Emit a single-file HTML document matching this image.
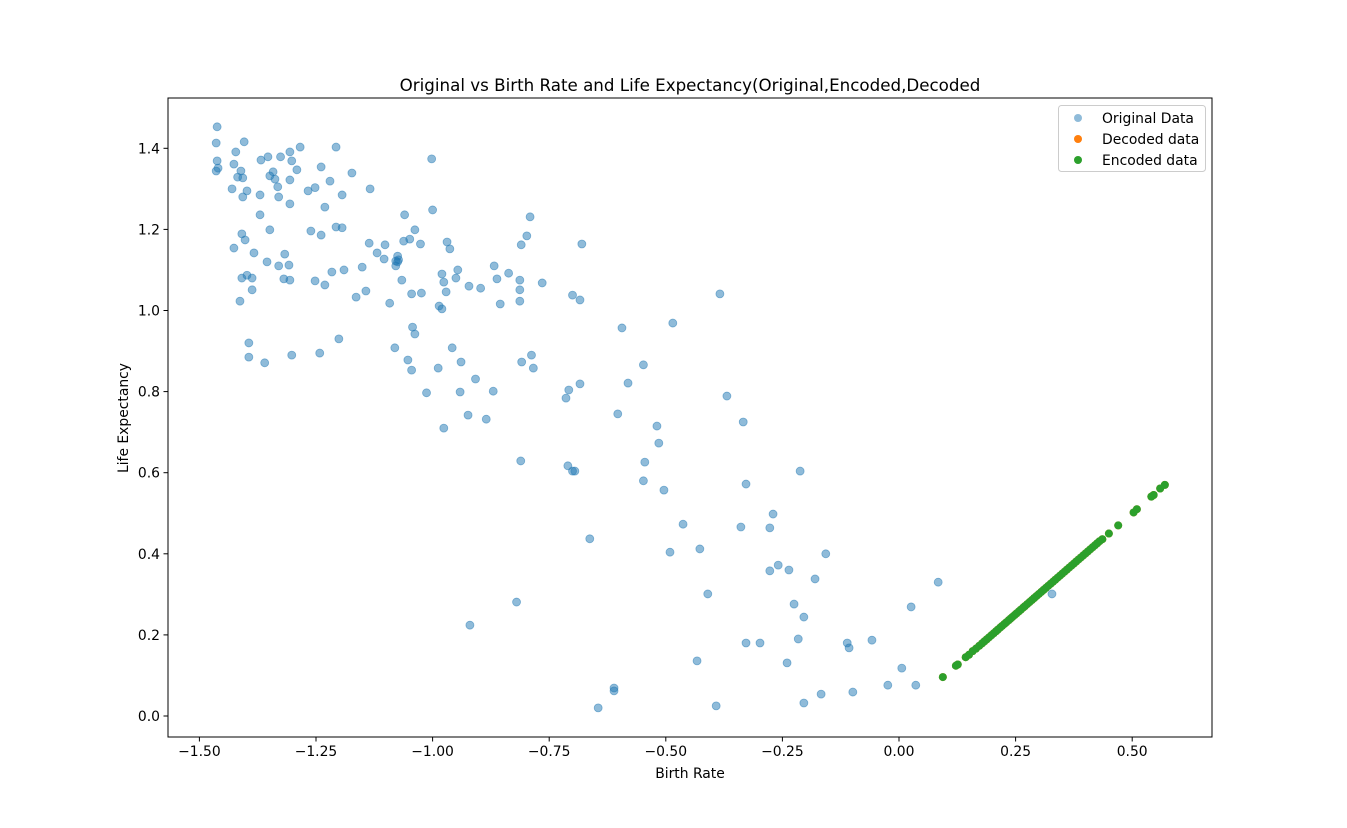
<!DOCTYPE html>
<html><head><meta charset="utf-8"><style>
body{margin:0;background:#fff;}
svg{display:block;font-family:"DejaVu Sans","Liberation Sans",sans-serif;}
</style></head><body>
<svg id="chart" width="1347" height="828"></svg>
<script>
const origX=[-1.462,-1.464,-1.462,-1.460,-1.464,-1.404,-1.422,-1.426,-1.411,-1.418,-1.407,-1.430,-1.398,-1.407,-1.370,-1.368,-1.353,-1.326,-1.342,-1.349,-1.338,-1.332,-1.330,-1.306,-1.302,-1.284,-1.291,-1.306,-1.306,-1.370,-1.267,-1.252,-1.239,-1.207,-1.173,-1.220,-1.231,-1.194,-1.134,-1.409,-1.402,-1.426,-1.349,-1.383,-1.355,-1.317,-1.308,-1.330,-1.261,-1.239,-1.207,-1.194,-1.409,-1.398,-1.387,-1.319,-1.306,-1.387,-1.413,-1.252,-1.231,-1.216,-1.190,-1.164,-1.143,-1.394,-1.394,-1.360,-1.302,-1.242,-1.201,-1.136,-1.119,-1.102,-1.104,-1.151,-1.060,-1.062,-1.049,-1.038,-1.026,-1.000,-1.002,-1.075,-1.075,-1.079,-1.079,-1.073,-1.066,-1.092,-1.024,-1.045,-1.043,-1.038,-1.081,-1.053,-1.045,-1.013,-0.969,-0.963,-0.946,-0.950,-0.980,-0.976,-0.971,-0.986,-0.980,-0.922,-0.897,-0.958,-0.939,-0.988,-0.908,-0.941,-0.924,-0.885,-0.976,-0.868,-0.862,-0.837,-0.855,-0.810,-0.798,-0.791,-0.813,-0.813,-0.813,-0.765,-0.870,-0.809,-0.788,-0.784,-0.811,-0.820,-0.920,-0.680,-0.700,-0.684,-0.684,-0.708,-0.714,-0.710,-0.700,-0.695,-0.663,-0.594,-0.581,-0.603,-0.548,-0.545,-0.548,-0.519,-0.515,-0.504,-0.485,-0.491,-0.463,-0.427,-0.410,-0.433,-0.611,-0.611,-0.645,-0.392,-0.384,-0.369,-0.334,-0.328,-0.339,-0.328,-0.298,-0.270,-0.277,-0.259,-0.277,-0.236,-0.225,-0.216,-0.240,-0.212,-0.204,-0.204,-0.180,-0.167,-0.157,-0.111,-0.107,-0.099,-0.058,-0.024,0.006,0.026,0.036,0.084,0.328];
const origY=[1.453,1.413,1.369,1.351,1.344,1.416,1.391,1.361,1.344,1.329,1.327,1.300,1.295,1.280,1.285,1.371,1.379,1.379,1.342,1.332,1.324,1.305,1.280,1.391,1.369,1.403,1.347,1.322,1.263,1.236,1.295,1.303,1.354,1.403,1.339,1.319,1.255,1.285,1.300,1.189,1.174,1.154,1.199,1.142,1.120,1.139,1.112,1.110,1.196,1.186,1.206,1.204,1.080,1.087,1.080,1.078,1.075,1.051,1.023,1.073,1.063,1.095,1.100,1.033,1.048,0.920,0.885,0.871,0.890,0.895,0.930,1.166,1.142,1.162,1.127,1.107,1.236,1.171,1.176,1.199,1.164,1.248,1.374,1.134,1.120,1.110,1.122,1.125,1.075,1.018,1.043,1.041,0.959,0.942,0.908,0.878,0.853,0.797,1.169,1.152,1.100,1.080,1.090,1.070,1.046,1.011,1.004,1.060,1.055,0.908,0.873,0.858,0.831,0.799,0.742,0.732,0.710,1.110,1.078,1.092,1.016,1.162,1.184,1.231,1.075,1.051,1.023,1.068,0.801,0.873,0.890,0.858,0.629,0.281,0.224,1.164,1.038,1.026,0.819,0.804,0.784,0.617,0.604,0.604,0.437,0.957,0.821,0.745,0.866,0.626,0.580,0.715,0.673,0.557,0.969,0.404,0.473,0.412,0.301,0.136,0.069,0.062,0.020,0.025,1.041,0.789,0.725,0.572,0.466,0.180,0.180,0.498,0.464,0.372,0.358,0.360,0.276,0.190,0.131,0.604,0.244,0.032,0.338,0.054,0.400,0.180,0.168,0.059,0.187,0.076,0.118,0.269,0.076,0.330,0.301];
const encX=[0.094,0.122,0.126,0.143,0.150,0.158,0.165,0.172,0.178,0.183,0.188,0.193,0.198,0.203,0.208,0.212,0.217,0.221,0.226,0.230,0.235,0.239,0.243,0.248,0.252,0.257,0.261,0.266,0.270,0.275,0.280,0.285,0.290,0.295,0.300,0.305,0.310,0.315,0.320,0.325,0.330,0.335,0.340,0.345,0.350,0.355,0.360,0.365,0.370,0.375,0.380,0.385,0.390,0.395,0.400,0.405,0.410,0.415,0.420,0.425,0.430,0.436,0.450,0.470,0.503,0.510,0.541,0.546,0.560,0.570];
const encY=[0.096,0.124,0.127,0.145,0.151,0.160,0.166,0.173,0.179,0.184,0.189,0.194,0.199,0.204,0.209,0.213,0.218,0.222,0.227,0.231,0.236,0.240,0.244,0.249,0.253,0.258,0.262,0.267,0.271,0.276,0.281,0.286,0.291,0.296,0.301,0.306,0.311,0.316,0.321,0.326,0.331,0.336,0.341,0.346,0.351,0.356,0.361,0.366,0.371,0.376,0.381,0.386,0.391,0.396,0.401,0.406,0.411,0.416,0.421,0.426,0.431,0.436,0.450,0.470,0.502,0.510,0.541,0.545,0.561,0.570];
const xTicks=[-1.5,-1.25,-1.0,-0.75,-0.5,-0.25,0.0,0.25,0.5];
const xTickLabels=["−1.50","−1.25","−1.00","−0.75","−0.50","−0.25","0.00","0.25","0.50"];
const yTicks=[0.0,0.2,0.4,0.6,0.8,1.0,1.2,1.4];
const yTickLabels=["0.0","0.2","0.4","0.6","0.8","1.0","1.2","1.4"];

const L=168,R=1212,T=98,B=737;
const sx=v=>899+v*466.4;
const sy=v=>716-v*405.5;
const svg=document.getElementById('chart');
const NS='http://www.w3.org/2000/svg';
function mk(tag,attrs,parent){const e=document.createElementNS(NS,tag);for(const k in attrs)e.setAttribute(k,attrs[k]);(parent||svg).appendChild(e);return e;}

const gO=mk('g',{});


origX.forEach((x,i)=>{const c=mk('circle',{cx:sx(x),cy:sy(origY[i]),r:4,fill:'#1f77b4','fill-opacity':0.5,stroke:'#1f77b4','stroke-opacity':0.5,'stroke-width':0.8},gO);

});
const gD=mk('g',{});


encX.forEach((x,i)=>{const c=mk('circle',{cx:sx(x),cy:sy(encY[i]),r:4,fill:'#ff7f0e'},gD);

});
const gE=mk('g',{});


encX.forEach((x,i)=>{const c=mk('circle',{cx:sx(x),cy:sy(encY[i]),r:4,fill:'#2ca02c'},gE);

});

const frame=mk('rect',{x:L,y:T,width:R-L,height:B-T,fill:'none',stroke:'#000','stroke-width':1});



xTicks.forEach((v,i)=>{const x=sx(v);mk('line',{x1:x,x2:x,y1:B,y2:B+4.5,stroke:'#000'});
const t=mk('text',{x:x,y:B+19,'text-anchor':'middle','font-size':13.9});t.textContent=xTickLabels[i];

});
yTicks.forEach((v,i)=>{const y=sy(v);mk('line',{x1:L-4.5,x2:L,y1:y,y2:y,stroke:'#000'});
const t=mk('text',{x:L-8,y:y+5,'text-anchor':'end','font-size':13.9});t.textContent=yTickLabels[i];

});
</script>
<svg style="position:absolute;left:0;top:0" width="1347" height="828">
<text x="690" y="91" text-anchor="middle" font-size="16.7">Original vs Birth Rate and Life Expectancy(Original,Encoded,Decoded</text>
<text x="690" y="778" text-anchor="middle" font-size="13.9">Birth Rate</text>
<text x="128" y="418" text-anchor="middle" font-size="13.9" transform="rotate(-90 128 418)">Life Expectancy</text>
<g>
<rect x="1058.5" y="105.5" width="147" height="66" rx="3" fill="#fff" fill-opacity="0.8" stroke="#ccc"/>
<g><circle cx="1078" cy="118" r="4" fill="#1f77b4" fill-opacity="0.5"/><text x="1102" y="123" font-size="13.9">Original Data</text></g>
<g><circle cx="1078" cy="139" r="4" fill="#ff7f0e"/><text x="1102" y="144" font-size="13.9">Decoded data</text></g>
<g><circle cx="1078" cy="160" r="4" fill="#2ca02c"/><text x="1102" y="165" font-size="13.9">Encoded data</text></g>
</g>
</svg>
</body></html>
